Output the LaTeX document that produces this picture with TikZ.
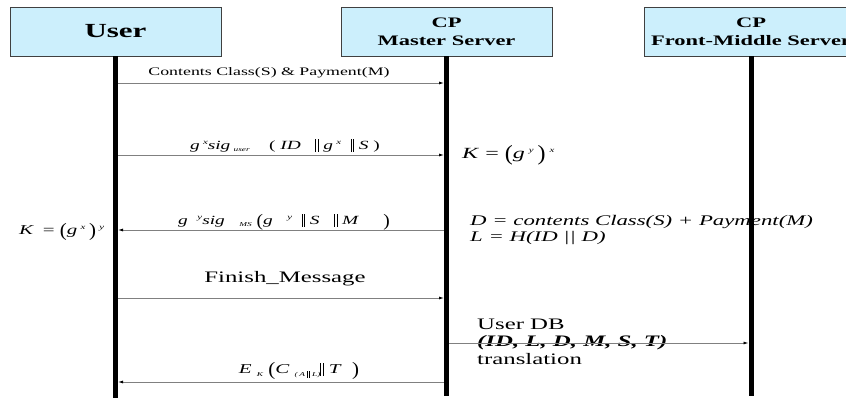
\documentclass[tikz,border=0pt]{standalone}
\usepackage{fontspec}
\setmainfont{Liberation Serif}
\usepackage{tikz}
\usetikzlibrary{arrows.meta}

% wide lettering used throughout
\newcommand{\wide}[1]{\scalebox{1.55}[1]{#1}}
% small raised and lowered indices
\newcommand{\up}[1]{\raisebox{0.75ex}{\fontsize{7}{7}\selectfont\itshape #1}}
\newcommand{\dn}[1]{\raisebox{-0.5ex}{\fontsize{6}{6}\selectfont\itshape #1}}
% tall double bar and tall parentheses
\newcommand{\dbar}{\rule[-2.5pt]{0.55pt}{12.5pt}\hspace{1pt}\rule[-2.5pt]{0.55pt}{12.5pt}}
\newcommand{\sdbar}{\rule[-1.5pt]{0.45pt}{7pt}\hspace{0.7pt}\rule[-1.5pt]{0.45pt}{7pt}}
\newcommand{\tallp}[1]{\raisebox{-2.5pt}{\scalebox{1}[1.4]{#1}}}

\begin{document}
\begin{tikzpicture}
[ x=1pt, y=-1pt
, actor/.style={rectangle, draw=black!75, line width=0.8pt, fill=cyan!20, minimum width=211pt, minimum height=49pt, align=center, font=\fontsize{14.5}{18}\selectfont\bfseries}
, lifeline/.style={line width=5pt}
, msg/.style={draw=gray, line width=0.8pt, shorten <=2.5pt, shorten >=2.5pt, -{Latex[length=5pt,width=3pt,color=black]}}
, label/.style={inner sep=0pt, anchor=base, font=\fontsize{11.5}{13}\selectfont}
, formula/.style={inner sep=0pt, anchor=base, font=\fontsize{12.5}{14}\selectfont}
, note/.style={inner sep=0pt, anchor=base west, align=left}
]
\useasboundingbox (0,0) rectangle (846,400);

% the three parties
\node (user) [actor, font=\fontsize{20}{22}\selectfont\bfseries] at (115.5,31.5) {\wide{User}};
\node (master) [actor] at (446.5,31.5) {\wide{CP}\\\wide{Master Server}};
\node (front) [actor, minimum width=214pt] at (751,31.5) {\wide{CP}\\\wide{Front-Middle Server}};

% lifeline ends and message heights
\coordinate (uend) at (user.south |- 0,398);
\coordinate (mend) at (master.south |- 0,396);
\coordinate (fend) at (front.south |- 0,396);
\foreach \n/\y in {1/83, 2/155, 3/230, 4/298, 5/382} {
  \coordinate (u\n) at (user.south |- 0,\y);
  \coordinate (m\n) at (master.south |- 0,\y);
}
\coordinate (m6) at (master.south |- 0,343);
\coordinate (f6) at (front.south |- 0,343);

% key agreement and ticket issue
\node (cls) [label] at (269,75) {\wide{Contents Class(S) \& Payment(M)}};
\node (sigu) [formula] at (285,149) {\wide{\textit{g}\,\up{x}\textit{sig}\,\dn{user}\quad(\ \textit{ID}\ \ \ \dbar\ \textit{g}\,\up{x}\ \ \dbar\ \textit{S}\ )}};
\node (sigm) [formula] at (284,224) {\wide{\textit{g}\ \ \up{y}\textit{sig}\ \ \ \dn{MS}\ \tallp{(}\textit{g}\ \ \ \up{y}\ \ \dbar\ \textit{S}\ \ \ \dbar\ \textit{M}\quad\ \tallp{)}}};
\node (kmaster) [note, font=\fontsize{15.5}{17}\selectfont] at (462,158) {\wide{\textit{K} = \tallp{(}\textit{g}\,\up{y}\,\tallp{)}\,\up{x}}};
\node (kuser) [note, font=\fontsize{13.5}{15}\selectfont] at (19,234) {\wide{\textit{K}\,\ = \tallp{(}\textit{g}\,\up{x}\,\tallp{)}\,\up{y}}};
\node (dl) [note, font=\fontsize{14.7}{16}\selectfont\itshape] at (470,241) {\wide{D = contents Class(S) + Payment(M)}\\\wide{L = H(ID || D)}};
\node (fin) [label, font=\fontsize{16}{18}\selectfont] at (285,282) {\wide{Finish\_Message}};
\node (db) [note, font=\fontsize{16}{17.5}\selectfont] at (477,364) {\wide{User DB}\\\wide{\textbf{\textit{(ID, L, D, M, S, T)}}}\\\wide{translation}};
\node (ek) [formula, font=\fontsize{13.5}{15}\selectfont] at (299,373) {\wide{\textit{E}\ \dn{K}\ \tallp{(}\textit{C}\ \dn{(\,\textit{A}\ \sdbar\ \textit{L})}\dbar\ \textit{T}\ \ \tallp{)}}};

% messages
\draw [msg] (u1) -- (m1);
\draw [msg] (u2) -- (m2);
\draw [msg] (m3) -- (u3);
\draw [msg] (u4) -- (m4);
\draw [msg] (m6) -- (f6);
\draw [msg] (m5) -- (u5);

% lifelines on top
\draw [lifeline] (user.south) -- (uend);
\draw [lifeline] (master.south) -- (mend);
\draw [lifeline] (front.south) -- (fend);
\end{tikzpicture}
\end{document}
